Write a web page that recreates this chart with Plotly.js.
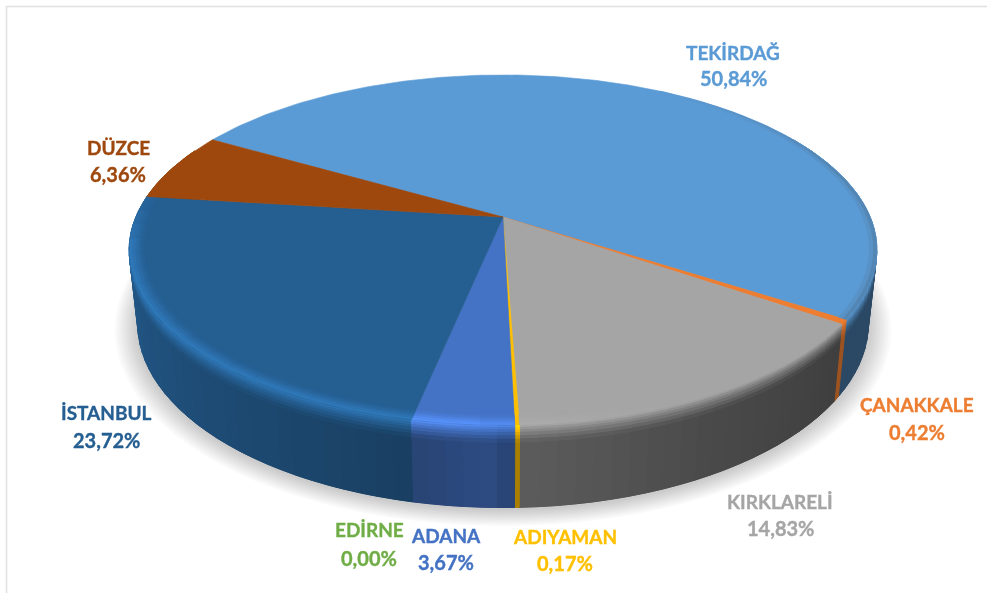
<!DOCTYPE html>
<html><head><meta charset="utf-8">
<script src="https://cdn.plot.ly/plotly-3.0.1.min.js"></script>
<style>html,body{margin:0;padding:0;background:#fff;overflow:hidden}#chart{width:987px;height:593px;filter:blur(0.45px)}</style>
</head><body><div id="chart"></div>
<script>
// ---- data ----
const categories = ['TEKİRDAĞ','ÇANAKKALE','KIRKLARELİ','ADIYAMAN','EDİRNE','ADANA','İSTANBUL','DÜZCE'];
const shares = [50.84,0.42,14.83,0.17,0.00,3.67,23.72,6.36];
const sliceColors = ['#5b9bd5','#ed7d31','#a5a5a5','#ffc000','#70ad47','#4472c4','#255e91','#9e480e'];

// ---- tilted-disc projection (pixel-space axes) ----
const CX=503, CY=217, D=5.3, FX=1946, FY=895;   // top plane
const BCY=289, BSX=0.977, BSY=1.05;             // bottom plane
const START=-150;
const rad=a=>a*Math.PI/180;
function topP(a,r=1){const X=r*Math.cos(rad(a)),Y=r*Math.sin(rad(a)),w=D-Y;return [CX+FX*X/w,CY+FY*Y/w];}
function botP(a,r=1){const X=r*Math.cos(rad(a)),Y=r*Math.sin(rad(a)),w=D-Y;return [CX+BSX*FX*X/w,BCY+BSY*FY*Y/w];}
const hex=c=>[1,3,5].map(i=>parseInt(c.substr(i,2),16));
const rgb=c=>'rgb('+c.map(v=>Math.min(255,Math.round(v))).join(',')+')';
const mix=(a,b,t)=>a.map((v,i)=>v+(b[i]-v)*t);
const clamp=(v,a,b)=>Math.max(a,Math.min(b,v));
const total=shares.reduce((s,v)=>s+v,0);

const spans=[]; let acc=0;
shares.forEach((v,i)=>{const a0=START+acc/total*360;acc+=v;spans.push({i,a0,a1:START+acc/total*360});});

function poly(pts,fill,lw){pts=pts.concat([pts[0]]);return {type:'scatter',mode:'lines',x:pts.map(p=>p[0]),y:pts.map(p=>p[1]),
  fill:'toself',fillcolor:fill,line:{color:lw===0?'rgba(0,0,0,0)':fill,width:lw===undefined?0.8:lw},hoverinfo:'skip',showlegend:false};}

const traces=[];
// soft shadow under the disc
for(let k=0;k<9;k++){
  const r=1.06-k*0.007, pts=[];
  for(let a=0;a<360;a+=3){const p=botP(a,r);pts.push([p[0],p[1]+2]);}
  traces.push(poly(pts,'rgba(0,0,0,0.022)',0));
}
// wall shading
function shade(a,idx){
  const t=a>300?a-360:a;
  if(shares[idx]<1) return 0.66;
  const stops=[[-30,.47],[34,.47],[34.01,.38],[60,.44],[88,.56],[92,.66],[101,.6],[102,.68],[150,.86],[187,1],[210,1]];
  for(let j=1;j<stops.length;j++){ if(t<=stops[j][0]){const [x0,y0]=stops[j-1],[x1,y1]=stops[j];return y0+(y1-y0)*(t-x0)/(x1-x0);} }
  return 1;
}
function lit(a){ return a<70?0:a<95?0.16*(a-70)/25:a<170?0.16:a<190?0.16*(190-a)/20:0; }
function crest(base,a,idx,w){
  const k=idx===2?0.2:1;
  return base.map(v=>v*(1+1.7*lit(a)*k*w));
}

// wall: one backing piece per slice, then thin shaded strips
const segs=[];
spans.forEach(s=>{
  if(shares[s.i]===0) return;
  const lo=Math.max(s.a0,-30), hi=Math.min(s.a1,205);
  if(hi<=lo) return;
  const base=hex(sliceColors[s.i]), mid=(lo+hi)/2, back=[];
  const steps=Math.max(2,Math.ceil(hi-lo));
  for(let k=0;k<=steps;k++) back.push(topP(lo+(hi-lo)*k/steps));
  for(let k=steps;k>=0;k--) back.push(botP(lo+(hi-lo)*k/steps));
  traces.push(poly(back,rgb(base.map(v=>v*shade(mid,s.i))),0.5));
  const n=Math.max(1,Math.ceil((hi-lo)/2.5));
  for(let k=0;k<n;k++) segs.push({i:s.i,a0:lo+(hi-lo)*k/n,a1:lo+(hi-lo)*(k+1)/n});
});
segs.sort((p,q)=>Math.sin(rad((p.a0+p.a1)/2))-Math.sin(rad((q.a0+q.a1)/2)));
const bands=[0,0.03,0.06,0.09,0.13,0.17,0.22,1];
segs.forEach(g=>{
  const m=(g.a0+g.a1)/2, base=hex(sliceColors[g.i]);
  const wall=base.map(v=>v*shade(m,g.i));
  const rim=crest(base,m,g.i,1);
  const A=[];
  [g.a0,(g.a0+g.a1)/2,g.a1].forEach(a=>{A.push([topP(a),botP(a)]);});
  for(let b=0;b<bands.length-1;b++){
    const v0=bands[b],v1=bands[b+1];
    const at=(pair,v)=>[pair[0][0]+(pair[1][0]-pair[0][0])*v,pair[0][1]+(pair[1][1]-pair[0][1])*v];
    const up=A.map(p=>at(p,v0)), dn=A.map(p=>at(p,v1)).reverse();
    const t=b===bands.length-2?1:clamp((b+0.5)/(bands.length-2),0,1);
    traces.push(poly(up.concat(dn),rgb(mix(rim,wall,t)),1));
  }
});
// top faces
spans.forEach(s=>{
  if(shares[s.i]===0) return;
  const pts=[topP(0,0)], n=Math.max(2,Math.ceil(s.a1-s.a0));
  for(let k=0;k<=n;k++) pts.push(topP(s.a0+(s.a1-s.a0)*k/n));
  traces.push(poly(pts,sliceColors[s.i],s.a1-s.a0<3?0.4:0.6));
});
// bevel ring on the face, lit side
const rings=[[0.992,1,1],[0.984,0.992,0.8],[0.976,0.984,0.55],[0.968,0.976,0.3],[0.96,0.968,0.12]];
spans.forEach(s=>{
  if(shares[s.i]<1) return;
  const lo=Math.max(s.a0,70), hi=Math.min(s.a1,195);
  if(hi<=lo) return;
  const n=Math.max(1,Math.ceil((hi-lo)/5)), base=hex(sliceColors[s.i]);
  for(let k=0;k<n;k++){
    const a0=lo+(hi-lo)*k/n,a1=lo+(hi-lo)*(k+1)/n,am=(a0+a1)/2;
    rings.slice().reverse().forEach(r=>{
      traces.push(poly([topP(a0,r[0]),topP(am,r[0]),topP(a1,r[0]),topP(a1,r[1]),topP(am,r[1]),topP(a0,r[1])],
        rgb(crest(base,am,s.i,r[2])),0.4));
    });
  }
});
// darkened fuzzy edge on the right side of the top-right slice
spans.forEach(s=>{
  if(s.i!==0) return;
  const lo=Math.max(s.a0,-60), hi=s.a1;
  const n=Math.max(1,Math.ceil((hi-lo)/6)), base=hex(sliceColors[s.i]);
  for(let k=0;k<n;k++){
    const a0=lo+(hi-lo)*k/n,a1=lo+(hi-lo)*(k+1)/n,am=(a0+a1)/2;
    const w=clamp((am+60)/40,0,1);
    [[0.99,1,.22],[0.98,0.99,.1]].forEach(r=>{
      traces.push(poly([topP(a0,r[0]),topP(am,r[0]),topP(a1,r[0]),topP(a1,r[1]),topP(am,r[1]),topP(a0,r[1])],
        rgb(mix(base,[60,60,60],r[2]*w)),0.4));
    });
  }
});

// labels
const fmt=v=>v.toFixed(2).replace('.',',')+'%';
const labelPos=[[733,52,78],[917,404,432],[780,501,528],[565,536,563],[369,529,558],[446,535,562],[106,412,440],[118,147,174]];
const annotations=[];
categories.forEach((c,i)=>{
  const [x,y1,y2]=labelPos[i];
  [[c,y1,19],[fmt(shares[i]),y2,20]].forEach(([t,y,size])=>annotations.push({xref:'x',yref:'y',x,y,text:t,showarrow:false,xanchor:'center',yanchor:'middle',
    font:{family:'Lato, Carlito, sans-serif',size,color:sliceColors[i],weight:700}}));
});
const layout={width:987,height:593,margin:{l:0,r:0,t:0,b:0},paper_bgcolor:'#fff',plot_bgcolor:'#fff',showlegend:false,
  xaxis:{range:[0,987],visible:false,fixedrange:true},
  yaxis:{range:[593,0],visible:false,fixedrange:true},
  annotations,
  shapes:[
    {type:'line',xref:'paper',yref:'paper',x0:7/987,x1:1,y0:1-6.5/593,y1:1-6.5/593,line:{color:'#e0e0e0',width:1.5}},
    {type:'line',xref:'paper',yref:'paper',x0:6.5/987,x1:6.5/987,y0:1-6/593,y1:0,line:{color:'#e0e0e0',width:1.5}}
  ]};
Plotly.newPlot('chart',traces,layout,{displayModeBar:false,staticPlot:true}).then(()=>{
  document.querySelectorAll('.annotation-text').forEach(t=>{t.style.stroke=t.style.fill;t.style.strokeWidth='0.35px';});
});
</script></body></html>
